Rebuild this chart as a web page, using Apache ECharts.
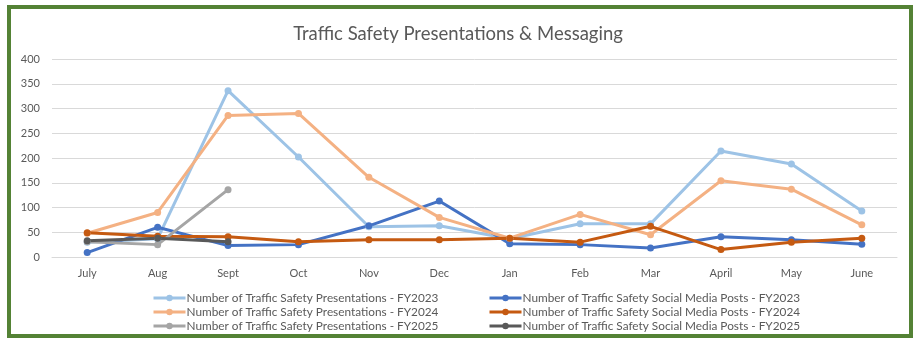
<!DOCTYPE html>
<html>
<head>
<meta charset="utf-8">
<title>Traffic Safety Presentations & Messaging</title>
<script src="https://cdn.jsdelivr.net/npm/echarts@6/dist/echarts.min.js"></script>
<style>
  html, body { margin: 0; padding: 0; background: #ffffff; }
  #chart { width: 916px; height: 339px; }
</style>
</head>
<body>
<div id="chart"></div>
<script>
// Months of the fiscal year (July through June)
const months = ['July', 'Aug', 'Sept', 'Oct', 'Nov', 'Dec', 'Jan', 'Feb', 'Mar', 'April', 'May', 'June'];
const yTicks = [0, 50, 100, 150, 200, 250, 300, 350, 400];

// Presentations per month
const presFY2023 = [30, 37, 336, 202, 61, 63, 37, 67, 67, 214, 188, 93];
const presFY2024 = [48, 90, 286, 290, 161, 80, 38, 86, 45, 154, 137, 65];
const presFY2025 = [31, 25, 136];

// Social media posts per month
const postsFY2023 = [9, 60, 23, 25, 63, 113, 27, 25, 18, 41, 35, 26];
const postsFY2024 = [49, 42, 41, 31, 35, 35, 38, 30, 62, 15, 30, 38];
const postsFY2025 = [33, 38, 31];

const FONT = 'Lato, "Open Sans", sans-serif';
const TEXT = '#595959';

const seriesDefs = [
  { name: 'Number of Traffic Safety Presentations - FY2023', data: presFY2023, color: '#9DC3E6' },
  { name: 'Number of Traffic Safety Social Media Posts - FY2023', data: postsFY2023, color: '#4472C4' },
  { name: 'Number of Traffic Safety Presentations - FY2024', data: presFY2024, color: '#F4B183' },
  { name: 'Number of Traffic Safety Social Media Posts - FY2024', data: postsFY2024, color: '#C55A11' },
  { name: 'Number of Traffic Safety Presentations - FY2025', data: presFY2025, color: '#A5A5A5' },
  { name: 'Number of Traffic Safety Social Media Posts - FY2025', data: postsFY2025, color: '#595959' }
];

const series = seriesDefs.map(s => ({
  name: s.name,
  type: 'line',
  data: s.data,
  symbol: 'circle',
  symbolSize: 7,
  showSymbol: true,
  lineStyle: { width: 3, color: s.color },
  itemStyle: { color: s.color },
  emphasis: { disabled: true },
  animation: false
}));

const legendCommon = {
  orient: 'vertical',
  top: 286,
  itemWidth: 32,
  itemHeight: 8,
  itemGap: 0,
  lineStyle: { width: 3 },
  textStyle: { fontFamily: FONT, fontSize: 11.8, lineHeight: 14, color: TEXT, padding: [0, 0, 0, -4] },
  selectedMode: false
};

const chart = echarts.init(document.getElementById('chart'), null, { renderer: 'canvas' });
chart.setOption({
  backgroundColor: '#ffffff',
  title: {
    text: 'Traffic Safety Presentations & Messaging',
    left: 'center',
    top: 20,
    textStyle: { fontFamily: FONT, fontSize: 18.5, fontWeight: 'normal', color: TEXT }
  },
  legend: [
    Object.assign({}, legendCommon, {
      left: 147,
      data: [seriesDefs[0].name, seriesDefs[2].name, seriesDefs[4].name]
    }),
    Object.assign({}, legendCommon, {
      left: 483,
      data: [seriesDefs[1].name, seriesDefs[3].name, seriesDefs[5].name]
    })
  ],
  grid: { left: 52, right: 19, top: 59, bottom: 82, containLabel: false },
  xAxis: {
    type: 'category',
    data: months,
    boundaryGap: true,
    axisLine: { show: true, lineStyle: { color: '#D9D9D9', width: 1 } },
    axisTick: { show: false },
    axisLabel: { fontFamily: FONT, fontSize: 11, color: TEXT, margin: 11 }
  },
  yAxis: {
    type: 'value',
    min: yTicks[0],
    max: yTicks[yTicks.length - 1],
    interval: 50,
    axisLine: { show: false },
    axisTick: { show: false },
    axisLabel: { fontFamily: FONT, fontSize: 11, color: TEXT, margin: 12 },
    splitLine: { lineStyle: { color: '#D9D9D9', width: 1 } }
  },
  graphic: [{
    type: 'rect',
    shape: { x: 9, y: 7, width: 902, height: 329 },
    style: { fill: 'none', stroke: '#548235', lineWidth: 4 },
    silent: true,
    z: 100
  }],
  series: series
});
</script>
</body>
</html>
